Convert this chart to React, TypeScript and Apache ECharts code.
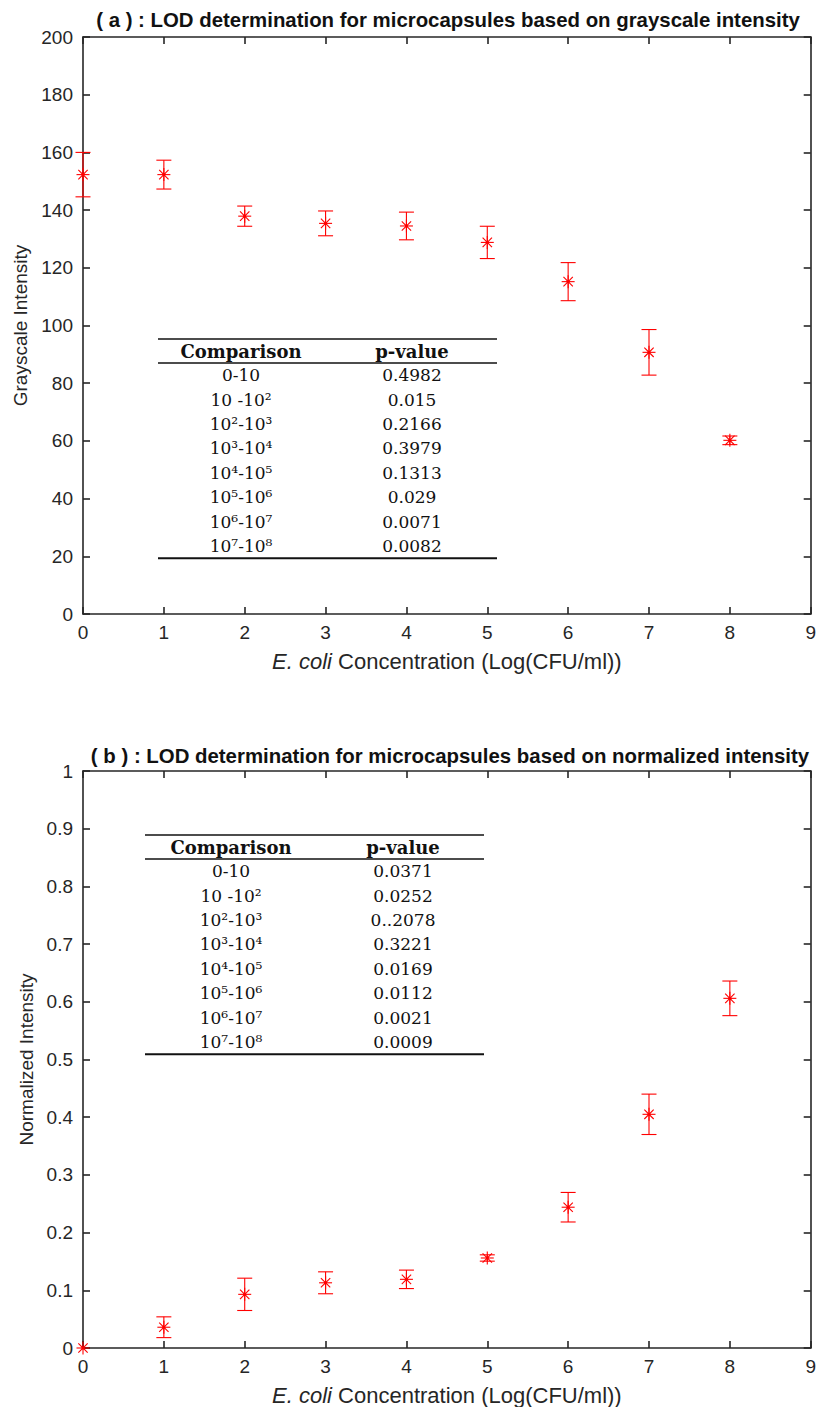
import React, { useEffect, useRef } from "react";
import * as echarts from "echarts";

const xValues = [0, 1, 2, 3, 4, 5, 6, 7, 8];
const grayMean = [152.3, 152.3, 137.9, 135.4, 134.5, 128.8, 115.2, 90.7, 60.2];
const grayErr = [7.7, 5.0, 3.5, 4.3, 4.8, 5.6, 6.6, 7.9, 1.5];
const normMean = [0, 0.036, 0.093, 0.113, 0.119, 0.156, 0.244, 0.405, 0.606];
const normErr = [0, 0.018, 0.028, 0.019, 0.016, 0.0055, 0.0256, 0.035, 0.03];

const comparisons = ["0-10", "10 -10²", "10²-10³", "10³-10⁴", "10⁴-10⁵", "10⁵-10⁶", "10⁶-10⁷", "10⁷-10⁸"];
const pValuesA = ["0.4982", "0.015", "0.2166", "0.3979", "0.1313", "0.029", "0.0071", "0.0082"];
const pValuesB = ["0.0371", "0.0252", "0..2078", "0.3221", "0.0169", "0.0112", "0.0021", "0.0009"];

const titleA = "( a ) : LOD determination for microcapsules based on grayscale intensity";
const titleB = "( b ) : LOD determination for microcapsules based on normalized intensity";
const yNameA = "Grayscale Intensity";
const yNameB = "Normalized Intensity";

const RED = "#ff0000";
const AX = "#262626";
const SANS = "'Liberation Sans', Arial, Helvetica, sans-serif";
const SERIF = "'DejaVu Serif', 'Liberation Serif', serif";

function renderErr(params: any, api: any) {
  const x = api.value(0);
  const m = api.value(1);
  const e = api.value(2);
  const c = api.coord([x, m]);
  const children: any[] = [];
  const st = { stroke: RED, lineWidth: 1.1 };
  if (e > 0) {
    const lo = api.coord([x, m - e]);
    const hi = api.coord([x, m + e]);
    const cw = 7.5;
    children.push({ type: "line", shape: { x1: c[0], y1: lo[1], x2: c[0], y2: hi[1] }, style: st });
    children.push({ type: "line", shape: { x1: c[0] - cw, y1: lo[1], x2: c[0] + cw, y2: lo[1] }, style: st });
    children.push({ type: "line", shape: { x1: c[0] - cw, y1: hi[1], x2: c[0] + cw, y2: hi[1] }, style: st });
  }
  const r = 6.5;
  const d = r * 0.72;
  children.push({ type: "line", shape: { x1: c[0] - r, y1: c[1], x2: c[0] + r, y2: c[1] }, style: st });
  children.push({ type: "line", shape: { x1: c[0], y1: c[1] - r, x2: c[0], y2: c[1] + r }, style: st });
  children.push({ type: "line", shape: { x1: c[0] - d, y1: c[1] - d, x2: c[0] + d, y2: c[1] + d }, style: st });
  children.push({ type: "line", shape: { x1: c[0] - d, y1: c[1] + d, x2: c[0] + d, y2: c[1] - d }, style: st });
  children.push({ type: "circle", shape: { cx: c[0], cy: c[1], r: 1.6 }, style: { fill: RED } });
  return { type: "group", children };
}

function tableGraphics(x0: number, x1: number, top: number, colA: number, colB: number, pvals: string[]) {
  const els: any[] = [];
  const line = (y: number, w: number) => ({
    type: "line",
    shape: { x1: x0, y1: y, x2: x1, y2: y },
    style: { stroke: "#111", lineWidth: w },
  });
  const headerLine = top + 24;
  const rowH = 24.4;
  els.push(line(top, 1.6));
  els.push(line(headerLine, 1.6));
  els.push(line(headerLine + rowH * 8, 2));
  const txt = (t: string, x: number, y: number, bold: boolean) => ({
    type: "text",
    x,
    y,
    style: {
      text: t,
      fill: "#111",
      font: `${bold ? "bold 18px" : "17px"} ${SERIF}`,
      textAlign: "center",
      textVerticalAlign: "middle",
    },
  });
  els.push(txt("Comparison", colA, top + 12.5, true));
  els.push(txt("p-value", colB, top + 12.5, true));
  comparisons.forEach((c, i) => {
    const y = headerLine + rowH * (i + 0.5);
    els.push(txt(c, colA, y, false));
    els.push(txt(pvals[i], colB, y, false));
  });
  return els;
}

function axesFor(grid: number, yMax: number, yInt: number, yName: string, nameGap: number, fmt?: (v: number) => string) {
  const common = {
    axisLine: { show: true, onZero: false, lineStyle: { color: AX, width: 1.6 } },
    axisTick: { show: true, inside: true, length: 7, lineStyle: { color: AX, width: 1.6 } },
    splitLine: { show: false },
  };
  const xName = "{i|E. coli} Concentration (Log(CFU/ml))";
  const xAxes = [
    {
      type: "value",
      gridIndex: grid,
      min: 0,
      max: 9,
      interval: 1,
      position: "bottom",
      ...common,
      axisLabel: { color: AX, fontSize: 19, fontFamily: SANS, margin: 9 },
      name: xName,
      nameLocation: "middle",
      nameGap: 36,
      nameTextStyle: {
        color: AX,
        fontSize: 22,
        fontFamily: SANS,
        rich: { i: { fontStyle: "italic", fontSize: 22, fontFamily: SANS, color: AX } },
      },
    },
    {
      type: "value",
      gridIndex: grid,
      min: 0,
      max: 9,
      interval: 1,
      position: "top",
      ...common,
      axisLabel: { show: false },
    },
  ];
  const yAxes = [
    {
      type: "value",
      gridIndex: grid,
      min: 0,
      max: yMax,
      interval: yInt,
      position: "left",
      ...common,
      axisLabel: {
        color: AX,
        fontSize: 19,
        fontFamily: SANS,
        margin: 10,
        formatter: fmt,
      },
      name: yName,
      nameLocation: "middle",
      nameGap,
      nameTextStyle: { color: AX, fontSize: 19, fontFamily: SANS },
    },
    {
      type: "value",
      gridIndex: grid,
      min: 0,
      max: yMax,
      interval: yInt,
      position: "right",
      ...common,
      axisLabel: { show: false },
    },
  ];
  return { xAxes, yAxes };
}

export default function App() {
  const ref = useRef<HTMLDivElement>(null);
  useEffect(() => {
    if (!ref.current) return;
    const chart = echarts.init(ref.current, undefined, { renderer: "svg" });
    const a = axesFor(0, 200, 20, yNameA, 50);
    const b = axesFor(1, 1, 0.1, yNameB, 46, (v: number) => (Math.round(v * 10) / 10).toString());
    const dataA = xValues.map((x, i) => [x, grayMean[i], grayErr[i]]);
    const dataB = xValues.map((x, i) => [x, normMean[i], normErr[i]]);
    const option: any = {
      animation: false,
      backgroundColor: "#ffffff",
      grid: [
        { left: 83, right: 7, top: 37, height: 577 },
        { left: 83, right: 7, top: 771, height: 577 },
      ],
      xAxis: [...a.xAxes, ...b.xAxes],
      yAxis: [...a.yAxes, ...b.yAxes],
      series: [
        {
          type: "custom",
          xAxisIndex: 0,
          yAxisIndex: 0,
          clip: false,
          renderItem: renderErr,
          encode: { x: 0, y: 1 },
          data: dataA,
          z: 10,
        },
        {
          type: "custom",
          xAxisIndex: 2,
          yAxisIndex: 2,
          clip: false,
          renderItem: renderErr,
          encode: { x: 0, y: 1 },
          data: dataB,
          z: 10,
        },
      ],
      graphic: [
        {
          type: "text",
          x: 448,
          y: 20,
          style: {
            text: titleA,
            font: `bold 20.4px ${SANS}`,
            fill: "#111",
            textAlign: "center",
            textVerticalAlign: "middle",
          },
        },
        {
          type: "text",
          x: 450,
          y: 756,
          style: {
            text: titleB,
            font: `bold 20.4px ${SANS}`,
            fill: "#111",
            textAlign: "center",
            textVerticalAlign: "middle",
          },
        },
        ...tableGraphics(158, 497, 339, 241, 412, pValuesA),
        ...tableGraphics(145, 484, 835, 231, 403, pValuesB),
      ],
    };
    chart.setOption(option);
    return () => chart.dispose();
  }, []);
  return (
    <div
      ref={ref}
      style={{ position: "absolute", left: 0, top: 0, width: 819, height: 1407, background: "#fff" }}
    />
  );
}
